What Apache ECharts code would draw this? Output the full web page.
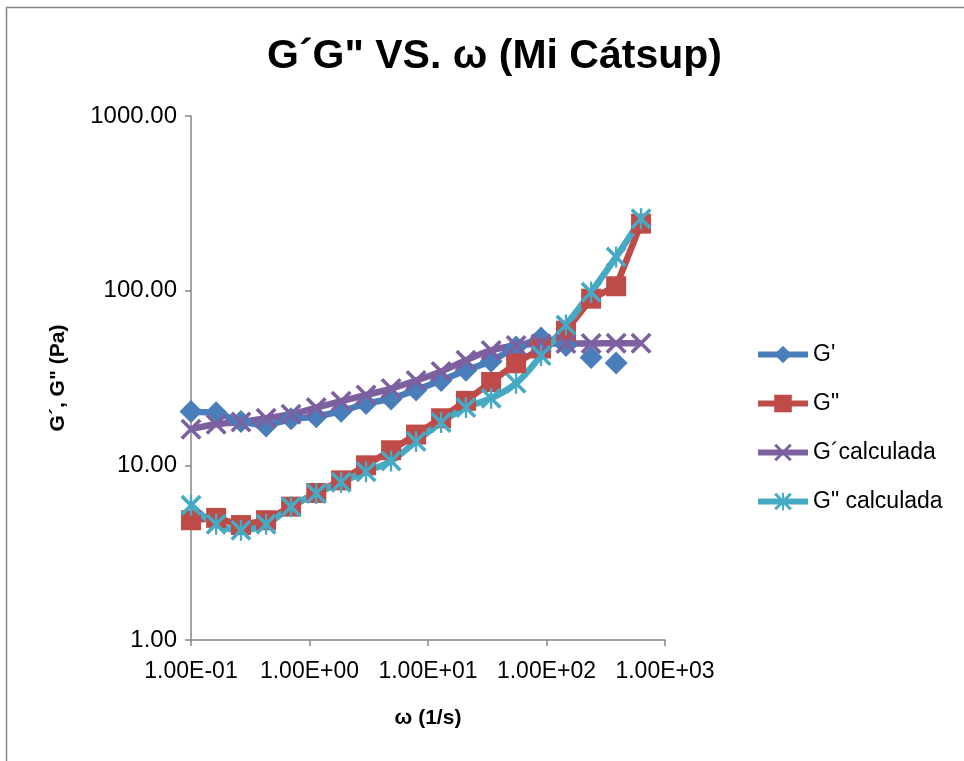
<!DOCTYPE html>
<html>
<head>
<meta charset="utf-8">
<script src="https://cdn.jsdelivr.net/npm/echarts@6/dist/echarts.min.js"></script>
<style>
  html, body { margin: 0; padding: 0; background: #ffffff; }
  #chart { width: 964px; height: 761px; }
</style>
</head>
<body>
<div id="chart"></div>
<script>
// Angular frequency (1/s) of the sweep
const omega = [0.1, 0.163, 0.264, 0.43, 0.699, 1.14, 1.85, 3.0, 4.88, 7.93,
               12.9, 20.9, 34.1, 55.4, 90.0, 146, 238, 387, 628];

// Measured storage modulus G' (Pa), continuous run
const gPrime = [20.3, 20.0, 17.8, 16.8, 18.5, 19.0, 20.4, 22.6, 24.0, 27.0,
                30.6, 35.0, 39.4, 47.6, 53.5, 48.5];
// Measured G' at the two highest frequencies (stand-alone points)
const gPrimeTailOmega = [238, 387];
const gPrimeTail = [41.5, 38.5];

// Measured loss modulus G" (Pa)
const gDouble = [4.85, 5.0, 4.55, 4.85, 5.8, 6.95, 8.2, 10.0, 12.2, 15.0,
                 18.6, 23.4, 30.0, 38.4, 46.7, 59.0, 90.0, 106, 242];

// Model (calculated) moduli (Pa)
const gPrimeCalc = [16.1, 17.2, 17.7, 18.6, 19.6, 21.4, 23.3, 25.3, 27.5, 30.6,
                    34.5, 40.0, 45.5, 48.5, 49.6, 49.8, 49.9, 50.0, 50.0];
const gDoubleCalc = [5.9, 4.6, 4.25, 4.6, 5.8, 6.9, 8.0, 9.2, 10.6, 13.7,
                     17.6, 21.4, 24.2, 29.5, 42.5, 63.5, 98.0, 156, 258];

const seriesNames = ["G'", 'G"', 'G\u00b4calculada', 'G" calculada'];
const titleText = 'G\u00b4G" VS. \u03c9 (Mi C\u00e1tsup)';
const xTitle = '\u03c9 (1/s)';
const yTitle = 'G\u00b4, G" (Pa)';

const FONT = 'Liberation Sans';
const AXIS_GREY = '#868686';
const COLORS = ['#4A7EBB', '#BE4B48', '#7D60A0', '#46AAC5'];

// Marker outlines built from thin filled bars
const X_MARK = 'path://M0,1.2 L1.2,0 L10,8.8 L8.8,10 Z M8.8,0 L10,1.2 L1.2,10 L0,8.8 Z';
const STAR_MARK = 'path://M0,1.2 L1.2,0 L10,8.8 L8.8,10 Z M8.8,0 L10,1.2 L1.2,10 L0,8.8 Z M4.45,0 L5.55,0 L5.55,10 L4.45,10 Z';

function pairs(xs, ys) {
  return ys.map((y, i) => [xs[i], y]);
}

// 1.00E-01 style scientific labels
function sciLabel(v) {
  const e = Math.round(Math.log10(v));
  const m = v / Math.pow(10, e);
  const sign = e < 0 ? '-' : '+';
  const ae = Math.abs(e);
  return m.toFixed(2) + 'E' + sign + (ae < 10 ? '0' + ae : String(ae));
}

const chart = echarts.init(document.getElementById('chart'), null, { renderer: 'canvas' });

const lineWidth = 6.5;

chart.setOption({
  backgroundColor: '#ffffff',
  animation: false,
  title: {
    text: titleText,
    left: 262,
    top: 31,
    textStyle: { fontFamily: FONT, fontWeight: 'bold', fontSize: 41, color: '#000' }
  },
  graphic: [{
    type: 'rect',
    z: -1,
    shape: { x: 6.5, y: 7.5, width: 980, height: 780 },
    style: { fill: 'none', stroke: AXIS_GREY, lineWidth: 1.5 }
  }],
  legend: {
    orient: 'vertical',
    left: 750,
    top: 338,
    itemWidth: 50,
    itemHeight: 22,
    itemGap: 26,
    data: seriesNames,
    lineStyle: { width: 6 },
    textStyle: { fontFamily: FONT, fontSize: 23, color: '#000', lineHeight: 22 }
  },
  grid: { left: 191, right: 299, top: 116, bottom: 121 },
  xAxis: {
    type: 'log',
    logBase: 10,
    min: 0.1,
    max: 1000,
    name: xTitle,
    nameLocation: 'middle',
    nameGap: 68,
    nameTextStyle: { fontFamily: FONT, fontWeight: 'bold', fontSize: 21, color: '#000' },
    axisLine: { lineStyle: { color: AXIS_GREY, width: 1.5 } },
    axisTick: { show: true, length: 6, lineStyle: { color: AXIS_GREY, width: 1.5 } },
    minorTick: { show: false },
    splitLine: { show: false },
    axisLabel: {
      formatter: sciLabel,
      margin: 20,
      fontFamily: FONT, fontSize: 23, color: '#000'
    }
  },
  yAxis: {
    type: 'log',
    logBase: 10,
    min: 1,
    max: 1000,
    name: yTitle,
    nameLocation: 'middle',
    nameGap: 122,
    nameTextStyle: { fontFamily: FONT, fontWeight: 'bold', fontSize: 21, color: '#000' },
    axisLine: { show: true, lineStyle: { color: AXIS_GREY, width: 1.5 } },
    axisTick: { show: true, length: 6, lineStyle: { color: AXIS_GREY, width: 1.5 } },
    minorTick: { show: false },
    splitLine: { show: false },
    axisLabel: {
      formatter: v => v.toFixed(2),
      margin: 14,
      fontFamily: FONT, fontSize: 24, color: '#000'
    }
  },
  series: [
    {
      name: seriesNames[0],
      type: 'line',
      data: pairs(omega, gPrime),
      symbol: 'diamond',
      symbolSize: 23,
      showAllSymbol: true,
      itemStyle: { color: COLORS[0] },
      lineStyle: { color: COLORS[0], width: lineWidth }
    },
    {
      name: seriesNames[0],
      type: 'scatter',
      data: pairs(gPrimeTailOmega, gPrimeTail),
      symbol: 'diamond',
      symbolSize: 23,
      itemStyle: { color: COLORS[0], opacity: 1 }
    },
    {
      name: seriesNames[1],
      type: 'line',
      data: pairs(omega, gDouble),
      symbol: 'rect',
      symbolSize: 20,
      showAllSymbol: true,
      itemStyle: { color: COLORS[1] },
      lineStyle: { color: COLORS[1], width: lineWidth }
    },
    {
      name: seriesNames[2],
      type: 'line',
      smooth: 0.4,
      data: pairs(omega, gPrimeCalc),
      symbol: X_MARK,
      symbolSize: 21,
      showAllSymbol: true,
      itemStyle: { color: COLORS[2] },
      lineStyle: { color: COLORS[2], width: lineWidth }
    },
    {
      name: seriesNames[3],
      type: 'line',
      smooth: 0.4,
      data: pairs(omega, gDoubleCalc),
      symbol: STAR_MARK,
      symbolSize: 21,
      showAllSymbol: true,
      itemStyle: { color: COLORS[3] },
      lineStyle: { color: COLORS[3], width: lineWidth }
    }
  ]
});
</script>
</body>
</html>
